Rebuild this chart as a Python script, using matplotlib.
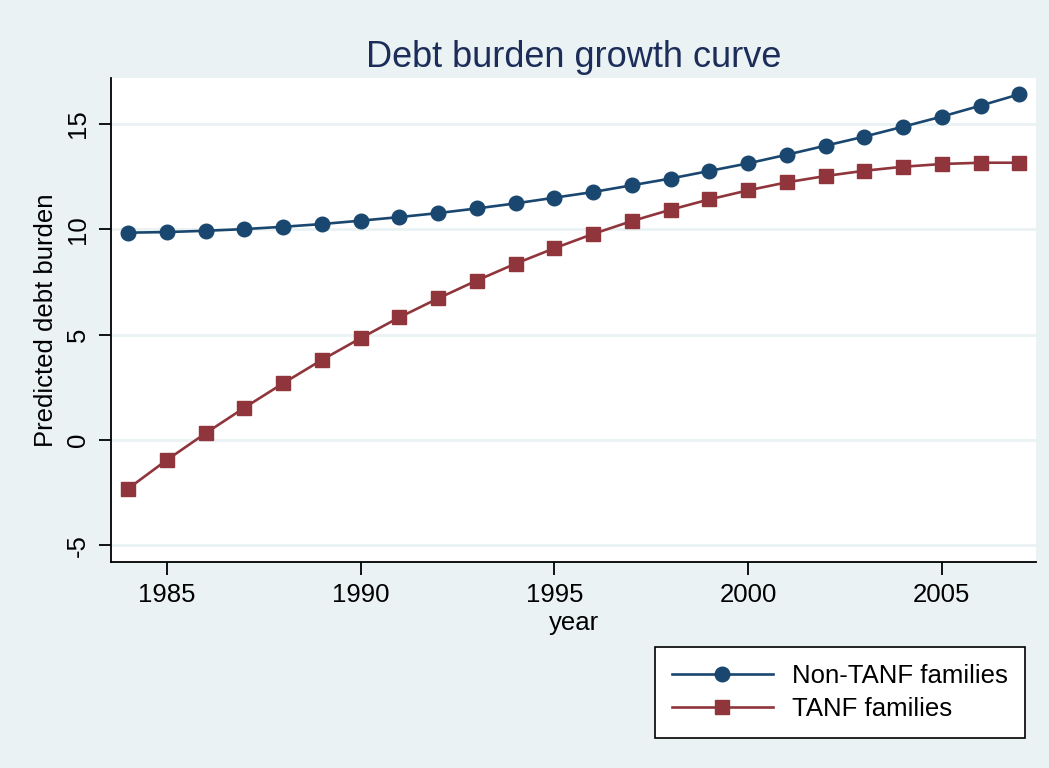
import matplotlib.pyplot as plt

plt.rcParams['font.family'] = ['Liberation Sans', 'DejaVu Sans']

years = list(range(1984, 2008))
non_tanf = [9.84, 9.87, 9.93, 10.01, 10.12, 10.25, 10.41, 10.58, 10.77, 10.99, 11.23, 11.50,
            11.77, 12.09, 12.41, 12.77, 13.13, 13.54, 13.97, 14.40, 14.87, 15.35, 15.87, 16.41]
tanf = [-2.31, -0.95, 0.32, 1.53, 2.69, 3.80, 4.83, 5.82, 6.72, 7.57, 8.37, 9.10,
        9.78, 10.39, 10.93, 11.42, 11.85, 12.23, 12.53, 12.78, 12.97, 13.10, 13.16, 13.16]
xticks = [1985, 1990, 1995, 2000, 2005]
yticks = [-5, 0, 5, 10, 15]

bg = '#eaf2f3'
navy = '#1a476f'
maroon = '#90353b'

fig = plt.figure(figsize=(10.49, 7.68), dpi=100, facecolor=bg)
ax = fig.add_axes([0.1058, 0.2682, 0.8818, 0.6302])
ax.set_facecolor('white')

# horizontal grid lines at the y ticks
for y in yticks:
    ax.axhline(y, color=bg, lw=2, zorder=0)

ax.plot(years, non_tanf, color=navy, lw=1.9, marker='o', markersize=10.5,
        label='Non-TANF families')
ax.plot(years, tanf, color=maroon, lw=1.9, marker='s', markersize=10.5,
        label='TANF families')

ax.set_xlim(1983.56, 2007.43)
ax.set_ylim(-5.79, 17.18)
ax.set_xticks(xticks)
ax.set_yticks(yticks)
ax.set_yticklabels([str(v) for v in yticks], rotation=90, va='center')
ax.tick_params(axis='both', labelsize=18.5, length=9, width=1.3, direction='out', pad=6)

for s in ['top', 'right']:
    ax.spines[s].set_visible(False)
for s in ['left', 'bottom']:
    ax.spines[s].set_linewidth(1.3)

ax.set_xlabel('year', fontsize=18.5, labelpad=3)
ax.set_ylabel('Predicted debt burden', fontsize=18.5, labelpad=6)
ax.set_title('Debt burden growth curve', fontsize=26, color='#1c2d5a', pad=8)

leg = fig.legend(loc='center', bbox_to_anchor=(0.8008, 0.0983),
                 fontsize=18.5, frameon=True, fancybox=False, handlelength=3.9,
                 handletextpad=0.75, labelspacing=0.35, borderpad=0.68,
                 borderaxespad=0, framealpha=1)
leg.get_frame().set_edgecolor('black')
leg.get_frame().set_facecolor('white')
leg.get_frame().set_linewidth(1.2)

fig.savefig('out.png', dpi=100, facecolor=bg)
